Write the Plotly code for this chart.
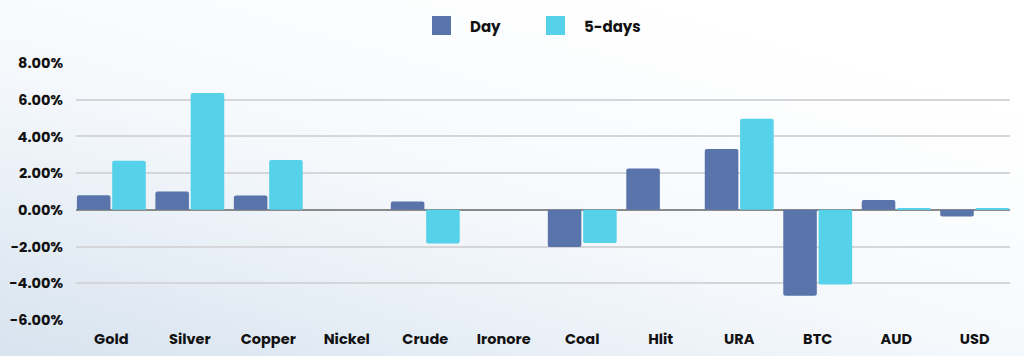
import base64
import plotly.graph_objects as go

categories = ["Gold", "Silver", "Copper", "Nickel", "Crude", "Ironore", "Coal", "Hlit", "URA", "BTC", "AUD", "USD"]
day_values = [0.80, 1.00, 0.78, 0.0, 0.46, 0.0, -2.03, 2.25, 3.31, -4.68, 0.54, -0.36]
five_day_values = [2.67, 6.36, 2.71, 0.0, -1.83, 0.0, -1.81, 0.0, 4.96, -4.06, 0.07, 0.07]
series_names = ["Day", "5-days"]
series_colors = ["#5874aa", "#55d1ea"]
y_ticks = [-6, -4, -2, 0, 2, 4, 6, 8]

FONT = "Poppins, 'Open Sans', sans-serif"

fig = go.Figure()
for name, vals, col in zip(series_names, [day_values, five_day_values], series_colors):
    fig.add_trace(go.Bar(x=categories, y=vals, name=name, marker=dict(color=col, line=dict(width=0)),
                         showlegend=False))

# background gradient via inline SVG
svg = ('<svg xmlns="http://www.w3.org/2000/svg" width="1024" height="356">'
       '<defs><linearGradient id="g" x1="0" y1="1" x2="0.75" y2="0.1">'
       '<stop offset="0" stop-color="#d7e3ef"/><stop offset="0.55" stop-color="#f6f9fc"/>'
       '<stop offset="1" stop-color="#ffffff"/></linearGradient></defs>'
       '<rect width="1024" height="356" fill="url(#g)"/></svg>')
src = "data:image/svg+xml;base64," + base64.b64encode(svg.encode()).decode()

W, H = 1024, 356
L, R, T, B = 76, 14, 63, 36
pw, ph = W - L - R, H - T - B

def px(x):
    return (x - L) / pw

def py(y):
    return (H - B - y) / ph

shapes = []
annotations = []
legend_items = [(432, 468), (546, 582)]
for (sx, tx), name, col in zip(legend_items, series_names, series_colors):
    shapes.append(dict(type="rect", xref="paper", yref="paper", x0=px(sx), x1=px(sx + 19),
                       y0=py(35), y1=py(16), fillcolor=col, line=dict(width=0), layer="above"))
    annotations.append(dict(xref="paper", yref="paper", x=px(tx), y=py(26), text="<b>%s</b>" % name,
                            showarrow=False, xanchor="left", yanchor="middle",
                            font=dict(family=FONT, size=15, color="#111111")))

fig.update_layout(
    width=W, height=H,
    margin=dict(l=L, r=R, t=T, b=B, pad=0, autoexpand=False),
    paper_bgcolor="rgba(0,0,0,0)",
    plot_bgcolor="rgba(0,0,0,0)",
    barmode="group", bargap=0.1, bargroupgap=0.05, barcornerradius=2,
    images=[dict(source=src, xref="paper", yref="paper", x=px(0), y=py(0), sizex=W / pw, sizey=H / ph,
                 sizing="stretch", layer="below", xanchor="left", yanchor="top")],
    shapes=shapes, annotations=annotations,
    font=dict(family=FONT, size=14, color="#111111"),
    xaxis=dict(range=[-0.45, 11.45], showgrid=False, ticks="", showline=False, zeroline=False,
               automargin=False,
               tickfont=dict(family=FONT, size=14.5, color="#111111"), ticklabelstandoff=8,
               tickvals=categories, ticktext=["<b>%s</b>" % c for c in categories]),
    yaxis=dict(range=[-6, 8], tickvals=y_ticks, ticktext=["<b>%.2f%%</b>" % v for v in y_ticks],
               showgrid=True, gridcolor="#d4d6d9", gridwidth=1.5, automargin=False,
               zeroline=True, zerolinecolor="#8a8a8a", zerolinewidth=1.5,
               ticks="", showline=False, ticklabelstandoff=12,
               tickfont=dict(family=FONT, size=14.5, color="#111111")),
)

fig.write_html("out.html", config={"displayModeBar": False},
               post_script="document.body.style.margin='0px';document.body.style.overflow='hidden';")
